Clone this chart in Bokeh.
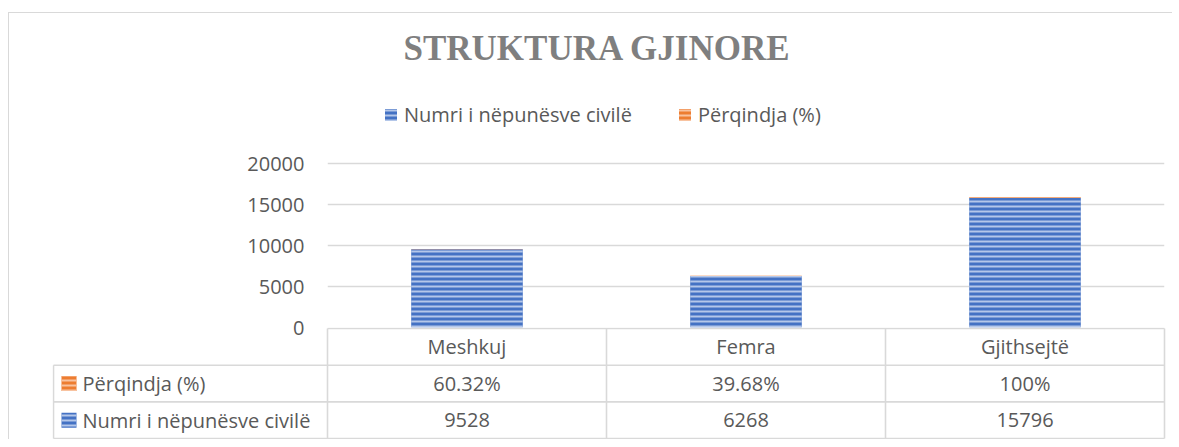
from bokeh.plotting import figure
from bokeh.models import FactorRange, Range1d, FixedTicker, Legend, LegendItem, ColumnDataSource
from bokeh.layouts import column
from bokeh.embed import file_html
from bokeh.resources import INLINE
from bokeh.core.properties import value

# ---- data ----
categories = ["Meshkuj", "Femra", "Gjithsejtë"]
numri = [9528, 6268, 15796]
perqindja = [60.32, 39.68, 100]
perqindja_labels = ["60.32%", "39.68%", "100%"]
y_ticks = [0, 5000, 10000, 15000, 20000]
series_names = ["Numri i nëpunësve civilë", "Përqindja (%)"]
title_text = "STRUKTURA GJINORE"

# ---- style ----
BLUE, BLUE_H = "#4472C4", "#b4c7e9"
ORANGE, ORANGE_H = "#ED7D31", "#f8c3a0"
GRID = "#d9d9d9"
TEXT = "#595959"
FONT = "Open Sans"

W = 1163            # figure width
FRAME_L = 318       # chart frame left border
FRAME_W = 837       # chart frame width
TOP_H = 67          # space above chart frame
FRAME_H = 247       # chart frame height
BOT_H = 14          # room below chart frame (for the "0" label), overlapped by table
Y20K_PX = 164       # pixels from frame bottom to the top gridline
n = len(categories)
cw = FRAME_W / n

y_end = y_ticks[-1] * FRAME_H / Y20K_PX

p = figure(width=W, height=TOP_H + FRAME_H + BOT_H,
           x_range=FactorRange(*categories, range_padding=0),
           y_range=Range1d(0, y_end),
           output_backend="svg", toolbar_location=None,
           min_border_left=FRAME_L, min_border_right=W - FRAME_L - FRAME_W,
           min_border_top=TOP_H, min_border_bottom=BOT_H)
p.frame_align = False
p.xaxis.visible = False
p.xgrid.visible = False
p.outline_line_color = None
p.yaxis.ticker = FixedTicker(ticks=y_ticks)
p.yaxis.axis_line_color = None
p.yaxis.major_tick_line_color = None
p.yaxis.minor_tick_line_color = None
p.yaxis.major_tick_out = 0
p.yaxis.major_label_standoff = 23
p.yaxis.major_label_text_font = FONT
p.yaxis.major_label_text_font_size = "20px"
p.yaxis.major_label_text_color = TEXT
p.ygrid.ticker = FixedTicker(ticks=y_ticks)
p.ygrid.grid_line_color = GRID
p.ygrid.grid_line_width = 1.6

p.title.text = title_text
p.title.text_font = "Liberation Serif"
p.title.text_font_style = "bold"
p.title.text_font_size = "35px"
p.title.text_color = "#7f7f7f"
p.title.align = "left"
p.title.offset = 76
p.title.standoff = 26

src = ColumnDataSource(dict(cat=categories, num=numri, pct=perqindja))
rs = p.vbar_stack(["num", "pct"], x="cat", width=0.4, source=src,
                  fill_color=[BLUE, ORANGE], line_color=None,
                  hatch_pattern="horizontal_line", hatch_color=[BLUE_H, ORANGE_H],
                  hatch_scale=5, hatch_weight=2)

legend = Legend(items=[LegendItem(label=series_names[0], renderers=[rs[0]]),
                       LegendItem(label=series_names[1], renderers=[rs[1]])],
                orientation="horizontal", location=(56, 199), padding=0, margin=0,
                spacing=45, glyph_width=15, glyph_height=15, label_standoff=6,
                border_line_color=None, background_fill_alpha=0,
                label_text_font=FONT, label_text_font_size="20px",
                label_text_color=TEXT)
p.add_layout(legend)

# ---- data table ----
T_H = 112
T_L = 43
T_R = 6
ROW_PX = 36.7
label_col_px = 274
label_left = -label_col_px / cw
x_start = -(label_col_px + 1) / cw
x_end = x_start + (W - T_L - T_R) / cw
y_top = -1 / ROW_PX
y_bot = y_top + T_H / ROW_PX
rows = 3

t = figure(width=W, height=T_H, x_range=Range1d(x_start, x_end), y_range=Range1d(y_bot, y_top),
           output_backend="svg", toolbar_location=None, x_axis_location=None, y_axis_location=None,
           min_border_left=T_L, min_border_right=T_R, min_border_top=0, min_border_bottom=0,
           styles={"margin-top": f"-{BOT_H}px"})
t.frame_align = False
t.grid.visible = False
t.outline_line_color = None
t.background_fill_color = None
t.border_fill_color = None

hx0 = [0] + [label_left] * rows
hx1 = [n] * (rows + 1)
hy = list(range(rows + 1))
t.segment(x0=hx0, y0=hy, x1=hx1, y1=hy, line_color=GRID, line_width=1.6)
vx = list(range(n + 1)) + [label_left]
vy0 = [0] * (n + 1) + [1]
vy1 = [rows] * (n + 2)
t.segment(x0=vx, y0=vy0, x1=vx, y1=vy1, line_color=GRID, line_width=1.6)

cx = [i + 0.5 for i in range(n)]
txt = dict(text_font=value(FONT), text_font_size="20px", text_color=TEXT,
           text_align="center", text_baseline="middle")
t.text(x=cx, y=[0.5] * n, text=categories, **txt)
t.text(x=cx, y=[1.5] * n, text=perqindja_labels, **txt)
t.text(x=cx, y=[2.5] * n, text=[str(v) for v in numri], **txt)

t.text(x=[label_left + 29 / cw] * 2, y=[1.5, 2.5], text=[series_names[1], series_names[0]],
       text_font=value(FONT), text_font_size="20px", text_color=TEXT,
       text_align="left", text_baseline="middle")
t.scatter(x=[label_left + 15.5 / cw] * 2, y=[1.5, 2.5], marker="square", size=15,
          fill_color=[ORANGE, BLUE], line_color=None,
          hatch_pattern="horizontal_line", hatch_color=[ORANGE_H, BLUE_H],
          hatch_scale=5, hatch_weight=2)

layout = column(p, t, styles={"border-top": "1px solid #d9d9d9",
                              "border-left": "1px solid #d9d9d9",
                              "margin-top": "12px", "margin-left": "8px"})

open("out.html", "w").write(file_html(layout, INLINE))
